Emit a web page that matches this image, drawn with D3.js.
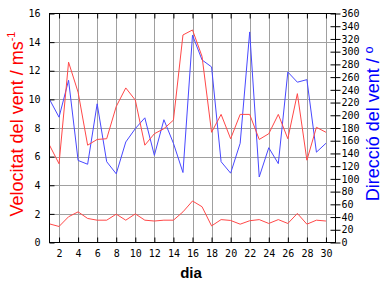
<!DOCTYPE html>
<html>
<head>
<meta charset="utf-8">
<script src="https://cdn.jsdelivr.net/npm/d3@7"></script>
<style>
body { margin: 0; background: #fff; }
svg { display: block; }
.tick text { font-family: "DejaVu Sans Mono", monospace; font-size: 10px; fill: #000; }
</style>
</head>
<body>
<svg width="384" height="288"></svg>
<script>
// Dades
var dies = d3.range(1, 31);
var velMax = [6.8, 5.5, 12.6, 10.5, 6.8, 7.2, 7.25, 9.5, 10.8, 9.95, 6.8, 7.6, 7.95, 8.55, 14.5,
              14.85, 13.0, 7.7, 8.95, 7.25, 8.95, 8.95, 7.2, 7.6, 8.95, 7.25, 10.4, 5.75, 8.05, 7.7];
var velMitja = [1.3, 1.12, 1.8, 2.14, 1.68, 1.56, 1.56, 1.98, 1.56, 2.0, 1.56, 1.5, 1.56, 1.56, 2.14,
                2.9, 2.5, 1.16, 1.6, 1.54, 1.28, 1.52, 1.6, 1.33, 1.6, 1.33, 2.03, 1.28, 1.56, 1.5];
var direccio = [225, 197, 255, 129, 123, 218, 127, 108, 158, 179, 196, 137, 193, 156, 110,
                326, 287, 276, 127, 109, 156, 331, 103, 149, 124, 268, 252, 256, 142, 156];
var ticksDia = d3.range(2, 31, 2);
var ticksVel = d3.range(0, 17, 2);
var ticksDir = d3.range(0, 361, 20);

// marges del grafic (no usar "top", es window.top)
var pLeft = 49.5, pRight = 335.5, pTop = 13.5, pBottom = 242.5;

var svg = d3.select('svg');

// Escales
var xScale = d3.scaleLinear().domain([1, 31]).range([pLeft, pRight]);
var yScale = d3.scaleLinear().domain([0, 16]).range([pBottom, pTop]);
var yDir = d3.scaleLinear().domain([0, 360]).range([pBottom, pTop]);

// graella
svg.append('g').selectAll('line')
    .data(ticksDia)
    .enter().append('line')
    .attr('x1', d => Math.round(xScale(d)) + 0.5).attr('x2', d => Math.round(xScale(d)) + 0.5)
    .attr('y1', pTop).attr('y2', pBottom)
    .attr('stroke', '#a0a0a0');
svg.append('g').selectAll('line')
    .data(ticksVel.slice(1, -1))
    .enter().append('line')
    .attr('y1', d => Math.round(yScale(d)) + 0.5).attr('y2', d => Math.round(yScale(d)) + 0.5)
    .attr('x1', pLeft).attr('x2', pRight)
    .attr('stroke', '#a0a0a0');

// linies
var lineVel = d3.line().x((d, i) => xScale(dies[i])).y(d => yScale(d));
var lineDir = d3.line().x((d, i) => xScale(dies[i])).y(d => yDir(d));

svg.append('path').datum(direccio)
    .attr('d', lineDir).attr('fill', 'none').attr('stroke', '#4848ff').attr('stroke-width', 1);
svg.append('path').datum(velMitja)
    .attr('d', lineVel).attr('fill', 'none').attr('stroke', '#ff4848').attr('stroke-width', 1);
svg.append('path').datum(velMax)
    .attr('d', lineVel).attr('fill', 'none').attr('stroke', '#ff4848').attr('stroke-width', 1);

// eixos
var xAxis = d3.axisBottom(xScale).tickValues(ticksDia).tickSize(-5).tickPadding(7.5).tickFormat(d3.format('d'));
svg.append('g').attr('transform', 'translate(0,' + pBottom + ')').call(xAxis);

var xTop = d3.axisTop(xScale).tickValues(ticksDia).tickSize(-5).tickFormat('');
svg.append('g').attr('transform', 'translate(0,' + pTop + ')').call(xTop);

var yAxis = d3.axisLeft(yScale).tickValues(ticksVel).tickSize(-5).tickPadding(9);
svg.append('g').attr('transform', 'translate(' + pLeft + ',0)').call(yAxis);

var yAxisDir = d3.axisRight(yDir).tickValues(ticksDir).tickSize(5).tickPadding(1);
var gDir = svg.append('g').attr('transform', 'translate(' + pRight + ',0)').call(yAxisDir);
gDir.selectAll('.tick line').attr('x1', -5);

svg.selectAll('.domain').remove();
svg.selectAll('.tick line').attr('stroke', '#000');

svg.append('rect')
    .attr('x', pLeft).attr('y', pTop)
    .attr('width', pRight - pLeft).attr('height', pBottom - pTop)
    .attr('fill', 'none').attr('stroke', '#000');

// titols
var tVel = svg.append('text')
    .attr('transform', 'translate(23,124) rotate(-90)')
    .attr('text-anchor', 'middle')
    .attr('font-family', 'Liberation Sans, Arial, sans-serif')
    .attr('font-size', 18)
    .attr('fill', '#ff0000');
tVel.append('tspan').text('Velocitat del vent / ms');
tVel.append('tspan').attr('font-size', 11).attr('dy', -8).text('-1');

svg.append('text')
    .attr('transform', 'translate(379,124) rotate(-90)')
    .attr('text-anchor', 'middle')
    .attr('font-family', 'Liberation Sans, Arial, sans-serif')
    .attr('font-size', 18)
    .attr('fill', '#0000ff')
    .text('Direcció del vent / º');

svg.append('text')
    .attr('x', 191).attr('y', 278)
    .attr('text-anchor', 'middle')
    .attr('font-family', 'Liberation Sans, Arial, sans-serif')
    .attr('font-size', 15)
    .attr('font-weight', 'bold')
    .text('dia');
</script>
</body>
</html>
